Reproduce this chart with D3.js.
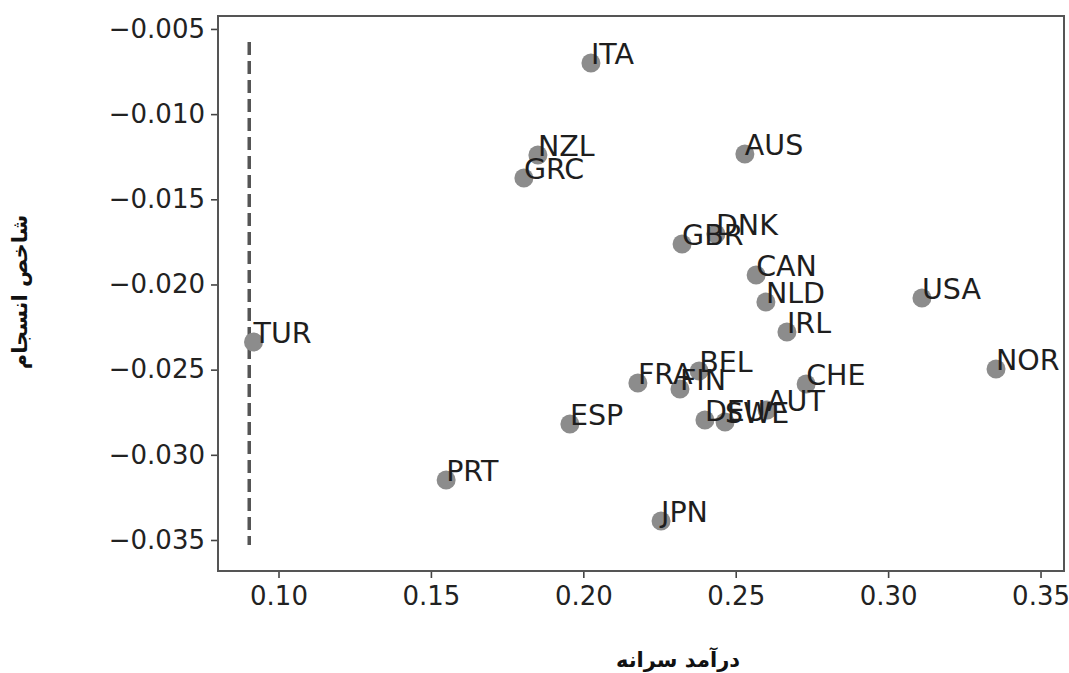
<!DOCTYPE html>
<html>
<head>
<meta charset="utf-8">
<script src="https://cdn.jsdelivr.net/npm/d3@7"></script>
<style>
  html, body { margin: 0; padding: 0; background: #fff; }
  svg { display: block; }
</style>
</head>
<body>
<svg id="chart" width="1069" height="673"></svg>
<script>
// Country codes, per-capita income and cohesion index
const countries = ["ITA","NZL","GRC","AUS","DNK","GBR","CAN","NLD","USA","IRL","TUR","NOR","BEL","CHE","FRA","FIN","AUT","DEU","SWE","ESP","PRT","JPN"];
const income = [0.2025,0.1851,0.1805,0.2530,0.2435,0.2324,0.2567,0.2599,0.3111,0.2668,0.0918,0.3354,0.2380,0.2731,0.2179,0.2317,0.2603,0.2399,0.2465,0.1956,0.1550,0.2255];
const cohesion = [-0.0070,-0.0124,-0.01375,-0.01234,-0.01704,-0.01762,-0.01944,-0.02103,-0.02079,-0.02279,-0.02338,-0.02496,-0.02508,-0.02584,-0.02578,-0.02614,-0.02737,-0.02796,-0.02807,-0.02819,-0.03148,-0.03389];

// Reference vertical line
const refLineX = [0.0904];
const refLineY = [-0.00576, -0.03529];

const xTicks = [0.10, 0.15, 0.20, 0.25, 0.30, 0.35];
const yTicks = [-0.005, -0.010, -0.015, -0.020, -0.025, -0.030, -0.035];

const xLabel = "درآمد سرانه";
const yLabel = "شاخص انسجام";

const margin = {left: 218, right: 5, top: 16, bottom: 102};
const W = 1069, H = 673;
const svg = d3.select("#chart");

const x = d3.scaleLinear().domain([0.08015, 0.3577]).range([margin.left, W - margin.right]);
const y = d3.scaleLinear().domain([-0.03682, -0.00424]).range([H - margin.bottom, margin.top]);

const font = "'DejaVu Sans', sans-serif";

// Axes
const xAxis = d3.axisBottom(x).tickValues(xTicks).tickFormat(d3.format(".2f")).tickSizeOuter(0).tickSize(7).tickPadding(9);
const yAxis = d3.axisLeft(y).tickValues(yTicks).tickFormat(d => d3.format(".3f")(d).replace("-", "\u2212")).tickSizeOuter(0).tickSize(7).tickPadding(6);

const gx = svg.append("g").attr("transform", `translate(0,${H - margin.bottom})`).call(xAxis);
const gy = svg.append("g").attr("transform", `translate(${margin.left},0)`).call(yAxis);
[gx, gy].forEach(g => {
  g.select(".domain").remove();
  g.selectAll(".tick line").attr("stroke", "#444").attr("stroke-width", 1.6);
  g.selectAll(".tick text").attr("fill", "#222").style("font-family", font).style("font-size", "26px");
});

// Frame
svg.append("rect")
  .attr("x", margin.left).attr("y", margin.top)
  .attr("width", W - margin.right - margin.left)
  .attr("height", H - margin.bottom - margin.top)
  .attr("fill", "none").attr("stroke", "#555").attr("stroke-width", 2);

// Dashed reference line
svg.append("line")
  .attr("x1", x(refLineX[0])).attr("x2", x(refLineX[0]))
  .attr("y1", y(refLineY[0])).attr("y2", y(refLineY[1]))
  .attr("stroke", "#555").attr("stroke-width", 3.5)
  .attr("stroke-dasharray", "13,6");

const data = countries.map((c, i) => ({c, x: income[i], y: cohesion[i]}));

// Points
svg.append("g").selectAll("circle").data(data).join("circle")
  .attr("cx", d => x(d.x)).attr("cy", d => y(d.y)).attr("r", 9.5)
  .attr("fill", "#8c8c8c");

// Country labels
svg.append("g").selectAll("text").data(data).join("text")
  .attr("x", d => x(d.x)).attr("y", d => y(d.y) + 1)
  .attr("fill", "#1e1e1e")
  .style("font-family", font).style("font-size", "28.5px")
  .text(d => d.c);

// Axis titles
svg.append("text")
  .attr("x", 678).attr("y", 667)
  .attr("text-anchor", "middle")
  .attr("fill", "#111")
  .style("font-family", font).style("font-size", "21px").style("font-weight", "bold")
  .text(xLabel);

svg.append("text")
  .attr("transform", "translate(27,292) rotate(-90)")
  .attr("text-anchor", "middle")
  .attr("fill", "#111")
  .style("font-family", font).style("font-size", "21px").style("font-weight", "bold")
  .text(yLabel);
</script>
</body>
</html>
